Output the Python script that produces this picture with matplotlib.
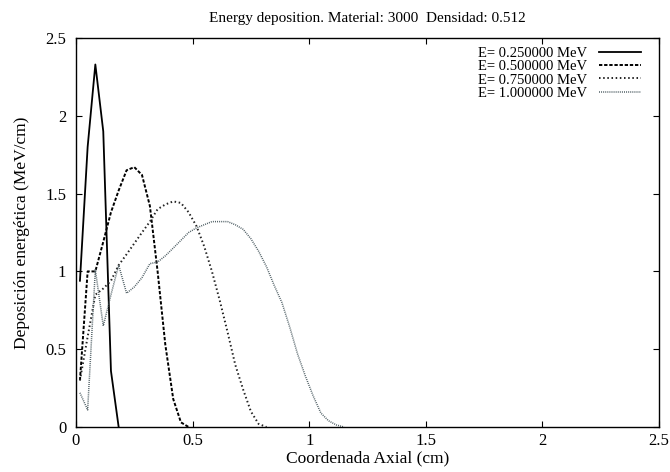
import matplotlib
matplotlib.use('Agg')
import matplotlib.pyplot as plt

plt.rcParams['font.family'] = ['Liberation Serif', 'DejaVu Serif']
plt.rcParams['lines.scale_dashes'] = False

# Axial coordinate (cm) and deposited energy (MeV/cm) for each beam energy
x_025 = [0.017, 0.050, 0.083, 0.117, 0.150, 0.183]
y_025 = [0.94, 1.80, 2.33, 1.90, 0.36, 0.00]

x_050 = [0.017, 0.050, 0.083, 0.117, 0.150, 0.183, 0.217, 0.250, 0.283,
         0.317, 0.350, 0.383, 0.417, 0.450, 0.483]
y_050 = [0.30, 1.00, 1.00, 1.19, 1.38, 1.52, 1.65, 1.67, 1.62,
         1.42, 1.00, 0.53, 0.18, 0.03, 0.00]

x_075 = [0.017, 0.050, 0.083, 0.117, 0.150, 0.183, 0.217, 0.250, 0.283,
         0.317, 0.350, 0.383, 0.417, 0.450, 0.483, 0.517, 0.550, 0.583,
         0.617, 0.650, 0.683, 0.717, 0.750, 0.783, 0.817]
y_075 = [0.30, 0.58, 0.85, 0.89, 0.94, 1.04, 1.11, 1.18, 1.25,
         1.32, 1.40, 1.43, 1.45, 1.44, 1.38, 1.29, 1.16, 1.00,
         0.81, 0.61, 0.40, 0.24, 0.10, 0.02, 0.00]

x_100 = [0.017, 0.050, 0.083, 0.117, 0.150, 0.183, 0.217, 0.250, 0.283,
         0.317, 0.350, 0.383, 0.417, 0.450, 0.483, 0.517, 0.550, 0.583,
         0.617, 0.650, 0.683, 0.717, 0.750, 0.783, 0.817, 0.850, 0.883,
         0.917, 0.950, 0.983, 1.017, 1.050, 1.083, 1.117, 1.150]
y_100 = [0.22, 0.11, 1.01, 0.65, 0.85, 1.04, 0.86, 0.90, 0.96,
         1.05, 1.06, 1.10, 1.15, 1.20, 1.25, 1.28, 1.30, 1.32,
         1.32, 1.32, 1.30, 1.27, 1.21, 1.13, 1.03, 0.91, 0.80,
         0.64, 0.47, 0.33, 0.20, 0.09, 0.04, 0.013, 0.00]

labels = ['E= 0.250000 MeV', 'E= 0.500000 MeV', 'E= 0.750000 MeV', 'E= 1.000000 MeV']
ticks = [0, 0.5, 1, 1.5, 2, 2.5]
tick_labels = ['0', '0.5', '1', '1.5', '2', '2.5']

fig = plt.figure(figsize=(6.7, 4.72), dpi=100)
ax = fig.add_axes([0.1134, 0.0953, 0.8702, 0.8242])

ax.plot(x_025, y_025, color='black', lw=1.3, label=labels[0])
ax.plot(x_050, y_050, color='black', lw=1.4, dashes=(2.4, 1.3), label=labels[1])
ax.plot(x_075, y_075, color='#222222', lw=1.4, dashes=(1.1, 1.9), label=labels[2])
ax.plot(x_100, y_100, color='#4c5c62', lw=1.1, dashes=(0.7, 0.8), label=labels[3])

ax.set_xlim(0, 2.5)
ax.set_ylim(0, 2.5)
ax.set_xticks(ticks)
ax.set_xticklabels(tick_labels)
ax.set_yticks(ticks)
ax.set_yticklabels(tick_labels)
ax.tick_params(direction='in', top=True, right=True, length=4, width=0.8,
               labelsize=12)
ax.tick_params(axis='y', pad=7)
ax.tick_params(axis='x', pad=4)
for s in ax.spines.values():
    s.set_linewidth(1.0)

ax.set_xlabel('Coordenada Axial (cm)', fontsize=12.5, labelpad=1)
ax.set_ylabel('Deposición energética (MeV/cm)', fontsize=12.5, labelpad=11)
fig.text(0.548, 0.96, 'Energy deposition. Material: 3000  Densidad: 0.512',
         ha='center', va='center', fontsize=11)

ax.legend(loc='upper right', bbox_to_anchor=(0.979, 0.992), borderaxespad=0,
          frameon=False, markerfirst=False, fontsize=10.5,
          handlelength=2.9, labelspacing=0.0, handletextpad=0.8)

plt.savefig('out.png', dpi=100)
